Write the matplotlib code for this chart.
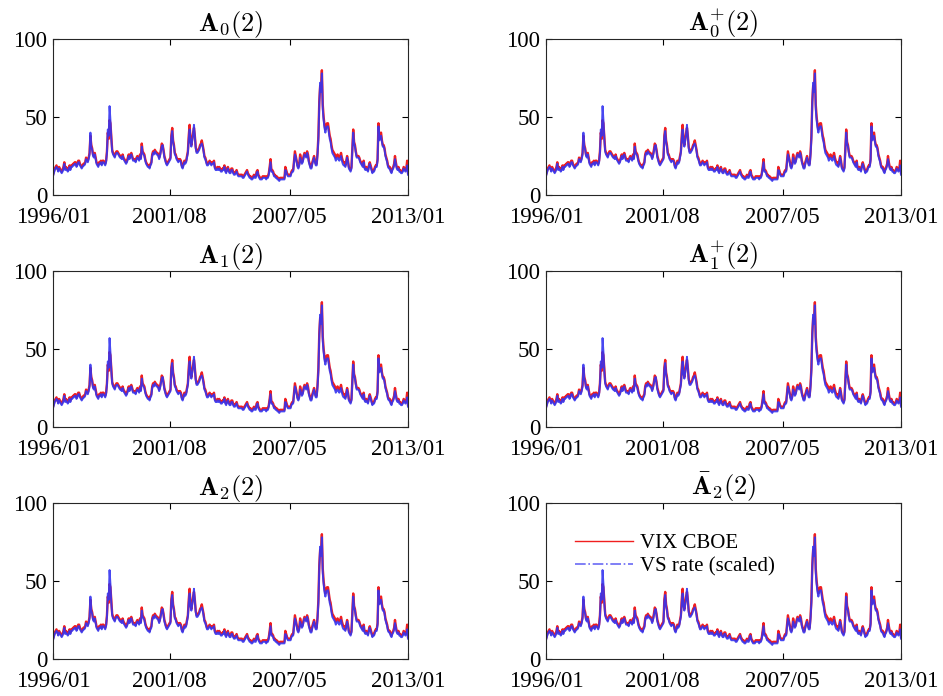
import numpy as np
import matplotlib
matplotlib.use("Agg")
import matplotlib.pyplot as plt
from matplotlib.lines import Line2D

# semi-monthly VIX levels, 1996/01 .. 2013/01 (two readings per month)
vix = [
    13, 15, 17, 18, 19, 17, 16, 18, 17, 16, 15, 16, 18, 21, 17, 18, 17, 16, 17, 19, 17, 19, 19, 20,  # 1996
    20, 21, 21, 19, 20, 22, 22, 20, 19, 18, 19, 20, 20, 21, 24, 23, 22, 24, 27, 38, 32, 30, 26, 25,  # 1997
    27, 24, 21, 20, 19, 21, 21, 22, 20, 22, 22, 21, 20, 22, 28, 40, 36, 48, 46, 38, 29, 27, 26, 25,  # 1998
    27, 28, 28, 27, 26, 25, 25, 24, 26, 24, 23, 22, 21, 22, 24, 26, 24, 26, 27, 25, 23, 23, 23, 22,  # 1999
    24, 25, 24, 23, 26, 24, 33, 28, 27, 26, 23, 21, 20, 19, 19, 18, 20, 21, 26, 28, 27, 29, 28, 27,  # 2000
    27, 26, 24, 26, 29, 33, 32, 29, 25, 23, 21, 20, 21, 22, 23, 24, 38, 43, 35, 32, 27, 26, 24, 23,  # 2001
    22, 23, 23, 22, 19, 18, 20, 22, 21, 22, 25, 28, 38, 45, 35, 32, 36, 40, 43, 38, 31, 28, 28, 29,  # 2002
    30, 32, 33, 35, 32, 29, 25, 24, 22, 20, 20, 21, 22, 21, 20, 21, 21, 22, 18, 17, 17, 18, 17, 18,  # 2003
    17, 16, 16, 17, 17, 19, 16, 15, 17, 18, 16, 15, 15, 17, 17, 15, 14, 14, 15, 16, 14, 13, 13, 13,  # 2004
    13, 13, 12, 12, 13, 14, 15, 16, 14, 13, 12, 12, 11, 11, 12, 13, 12, 12, 15, 16, 13, 12, 11, 11,  # 2005
    11, 12, 12, 12, 12, 11, 12, 12, 14, 18, 23, 16, 16, 15, 13, 13, 12, 12, 11, 11, 10, 11, 11, 11,  # 2006
    11, 11, 11, 18, 16, 14, 13, 13, 13, 13, 15, 16, 16, 22, 28, 25, 22, 19, 18, 20, 26, 23, 21, 22,  # 2007
    25, 27, 26, 25, 28, 26, 22, 20, 18, 18, 21, 23, 25, 22, 20, 20, 27, 38, 60, 70, 68, 80, 58, 50,  # 2008
    45, 42, 45, 46, 46, 42, 38, 36, 32, 29, 28, 27, 26, 24, 25, 26, 25, 24, 25, 27, 24, 22, 21, 21,  # 2009
    19, 22, 25, 22, 18, 17, 16, 18, 30, 42, 34, 32, 28, 25, 25, 25, 24, 22, 21, 20, 19, 22, 18, 17,  # 2010
    18, 17, 16, 19, 21, 19, 17, 15, 16, 16, 18, 19, 19, 23, 46, 36, 38, 40, 35, 32, 32, 30, 26, 24,  # 2011
    22, 19, 18, 18, 16, 15, 17, 18, 20, 25, 21, 18, 17, 18, 16, 16, 15, 15, 16, 18, 17, 16, 17, 22,  # 2012
    14,                                                                                              # 2013/01
]

# scaled variance swap rate, same dates
vs_rate = [
    12, 14, 16, 17, 18, 17, 15, 17, 16, 15, 14, 15, 17, 20, 16, 17, 16, 15, 16, 18, 16, 18, 18, 19,  # 1996
    19, 20, 20, 18, 19, 21, 21, 19, 18, 17, 18, 19, 19, 20, 23, 22, 21, 23, 26, 40, 31, 29, 25, 24,  # 1997
    26, 23, 20, 19, 18, 20, 20, 21, 19, 21, 21, 20, 19, 21, 27, 42, 38, 57, 48, 36, 28, 26, 25, 24,  # 1998
    26, 27, 27, 26, 25, 24, 24, 23, 25, 23, 22, 21, 20, 21, 23, 25, 23, 25, 26, 24, 22, 22, 22, 21,  # 1999
    23, 24, 23, 22, 25, 23, 31, 27, 26, 25, 22, 20, 19, 18, 18, 17, 19, 20, 25, 27, 26, 28, 27, 26,  # 2000
    26, 25, 23, 25, 28, 31, 32, 28, 24, 22, 20, 19, 20, 21, 22, 23, 37, 41, 34, 31, 26, 25, 23, 22,  # 2001
    21, 22, 22, 21, 18, 17, 19, 21, 20, 21, 24, 27, 36, 42, 34, 31, 35, 39, 45, 37, 30, 27, 27, 28,  # 2002
    29, 31, 32, 33, 31, 28, 24, 23, 21, 19, 19, 20, 21, 20, 19, 20, 20, 21, 17, 16, 16, 17, 16, 17,  # 2003
    16, 15, 15, 16, 16, 18, 15, 14, 16, 17, 15, 14, 14, 16, 16, 14, 13, 13, 14, 15, 13, 12, 12, 12,  # 2004
    12, 12, 11, 11, 12, 13, 14, 15, 13, 12, 11, 11, 10, 10, 11, 12, 11, 11, 14, 15, 12, 11, 10, 10,  # 2005
    10, 11, 11, 11, 11, 10, 11, 11, 13, 17, 21, 15, 15, 14, 12, 12, 11, 11, 10, 10, 9, 10, 10, 10,  # 2006
    10, 10, 10, 16, 15, 13, 12, 12, 12, 12, 14, 15, 15, 21, 26, 24, 21, 18, 17, 19, 24, 22, 20, 21,  # 2007
    24, 26, 25, 24, 27, 25, 21, 19, 17, 17, 20, 22, 24, 21, 19, 19, 26, 36, 58, 72, 66, 78, 55, 48,  # 2008
    43, 40, 43, 44, 44, 40, 36, 34, 30, 27, 26, 25, 24, 22, 23, 24, 23, 22, 23, 25, 22, 20, 19, 19,  # 2009
    18, 21, 24, 21, 17, 16, 15, 17, 29, 40, 33, 31, 27, 24, 24, 24, 23, 21, 20, 19, 18, 21, 17, 16,  # 2010
    17, 16, 15, 18, 20, 18, 16, 14, 15, 15, 17, 18, 18, 22, 44, 35, 37, 38, 34, 31, 31, 29, 25, 23,  # 2011
    21, 18, 17, 17, 15, 14, 16, 17, 19, 23, 20, 17, 16, 17, 15, 15, 14, 14, 15, 17, 16, 15, 16, 19,  # 2012
    13,                                                                                              # 2013/01
]

titles = [
    r"$\mathbf{A}_0(2)$", r"$\mathbf{A}_0^{+}(2)$",
    r"$\mathbf{A}_1(2)$", r"$\mathbf{A}_1^{+}(2)$",
    r"$\mathbf{A}_2(2)$", r"$\bar{\mathbf{A}}_2(2)$",
]
tick_labels = ["1996/01", "2001/08", "2007/05", "2013/01"]
y_ticks = [0, 50, 100]


def to_year(label):
    y, m = label.split("/")
    return int(y) + (int(m) - 1) / 12.0


t = 1996 + np.arange(len(vix)) / 24.0
x_ticks = [to_year(s) for s in tick_labels]

plt.rcParams["font.family"] = ["Liberation Serif", "DejaVu Serif"]
plt.rcParams["mathtext.fontset"] = "cm"

fig = plt.figure(figsize=(9.43, 6.96), dpi=100)
lefts = [0.0562, 0.579]
bottoms = [0.7198, 0.3865, 0.0532]
w, h = 0.3765, 0.2241

for i, title in enumerate(titles):
    ax = fig.add_axes([lefts[i % 2], bottoms[i // 2], w, h])
    ax.plot(t, vix, color="#f01e1e", lw=1.7)
    ax.plot(t, vs_rate, color="#3434f0", lw=1.4, alpha=0.9)
    ax.set_xlim(x_ticks[0], x_ticks[-1])
    ax.set_ylim(0, 100)
    ax.set_xticks(x_ticks)
    ax.set_xticklabels(tick_labels)
    ax.set_yticks(y_ticks)
    ax.tick_params(direction="in", top=True, right=True, labelsize=16.5,
                   length=4, width=0.8)
    ax.tick_params(axis="x", pad=8.5)
    ax.tick_params(axis="y", pad=4)
    for sp in ax.spines.values():
        sp.set_linewidth(0.8)
        sp.set_color("#262626")
    ax.set_title(title, fontsize=19, pad=6)

    if i == 5:
        handles = [
            Line2D([], [], color="#f01e1e", lw=1.0),
            Line2D([], [], color="#6a6af5", lw=1.2, ls="-."),
        ]
        ax.legend(handles, ["VIX CBOE", "VS rate (scaled)"], loc="upper left",
                  bbox_to_anchor=(0.057, 0.856), frameon=False, fontsize=15,
                  handlelength=2.8, handletextpad=0.35, labelspacing=0.15,
                  borderaxespad=0.0)

fig.savefig("out.png", dpi=100)
